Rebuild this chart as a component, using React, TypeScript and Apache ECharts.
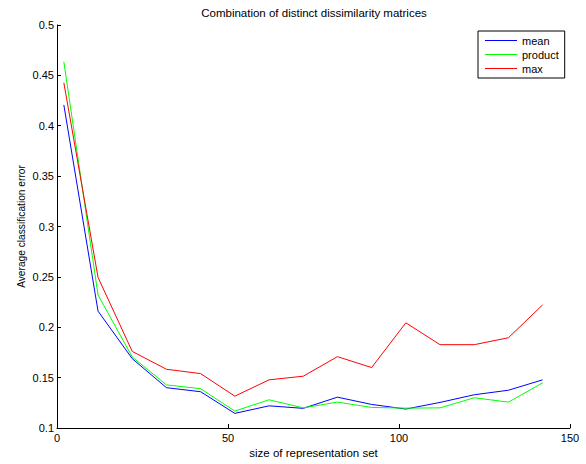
import React, { useEffect, useRef } from "react";
import * as echarts from "echarts";

const xValues = [2, 12, 22, 32, 42, 52, 62, 72, 82, 92, 102, 112, 122, 132, 142];
const meanValues = [0.4207, 0.216, 0.1688, 0.140, 0.136, 0.1145, 0.122, 0.1195, 0.1306, 0.1234, 0.1188, 0.1254, 0.133, 0.1375, 0.1478];
const productValues = [0.4635, 0.232, 0.1705, 0.1428, 0.139, 0.1168, 0.128, 0.120, 0.1257, 0.1204, 0.1197, 0.120, 0.130, 0.1257, 0.1448];
const maxValues = [0.4427, 0.2495, 0.176, 0.1583, 0.154, 0.1316, 0.1478, 0.1514, 0.1708, 0.160, 0.2044, 0.1827, 0.1827, 0.1896, 0.2222];

const FONT = "'Liberation Sans', Arial, Helvetica, sans-serif";

export default function App() {
  const ref = useRef<HTMLDivElement>(null);
  useEffect(() => {
    if (!ref.current) return;
    const chart = echarts.init(ref.current, undefined, { renderer: "svg" });
    const mk = (name: string, vals: number[], color: string) => ({
      name,
      type: "line",
      data: xValues.map((x, i) => [x, vals[i]]),
      symbol: "none",
      lineStyle: { color, width: 1 },
      itemStyle: { color },
    });
    chart.setOption({
      animation: false,
      backgroundColor: "#fff",
      textStyle: { fontFamily: FONT },
      grid: { left: 57, right: 16, top: 25, bottom: 34, containLabel: false },
      graphic: [
        {
          type: "text",
          x: 314,
          y: 13,
          style: {
            text: "Combination of distinct dissimilarity matrices",
            fontSize: 11.5,
            fontFamily: FONT,
            fill: "#000",
            textAlign: "center",
            textVerticalAlign: "middle",
          },
        },
      ],
      legend: {
        orient: "vertical",
        left: 478,
        top: 31,
        padding: [3, 6, 3, 7],
        itemGap: 1,
        itemWidth: 32,
        itemHeight: 1,
        icon: "rect",
        borderColor: "#000",
        borderWidth: 1,
        backgroundColor: "#fff",
        textStyle: { fontSize: 11, color: "#000", fontFamily: FONT, lineHeight: 13 },
        data: ["mean", "product", "max"],
      },
      xAxis: {
        type: "value",
        min: 0,
        max: 150,
        interval: 50,
        name: "size of representation set",
        nameLocation: "middle",
        nameGap: 19,
        nameMoveOverlap: false,
        nameTextStyle: { fontSize: 11.5, color: "#000", fontFamily: FONT },
        axisLine: { show: true, lineStyle: { color: "#000", width: 1 } },
        axisTick: { show: true, inside: true, length: 4, lineStyle: { color: "#000" } },
        axisLabel: { fontSize: 11, color: "#000", margin: 4, fontFamily: FONT },
        splitLine: { show: false },
      },
      yAxis: {
        type: "value",
        min: 0.1,
        max: 0.5,
        interval: 0.05,
        name: "Average classification error",
        nameLocation: "middle",
        nameGap: 31,
        nameMoveOverlap: false,
        nameTextStyle: { fontSize: 10.2, color: "#000", fontFamily: FONT },
        axisLine: { show: true, lineStyle: { color: "#000", width: 1 } },
        axisTick: { show: true, inside: true, length: 4, lineStyle: { color: "#000" } },
        axisLabel: { fontSize: 11, color: "#000", margin: 3, fontFamily: FONT },
        splitLine: { show: false },
      },
      series: [
        mk("mean", meanValues, "#0000ff"),
        mk("product", productValues, "#00ff00"),
        mk("max", maxValues, "#ff0000"),
      ],
    });
    return () => chart.dispose();
  }, []);
  return (
    <div
      ref={ref}
      style={{ position: "fixed", left: 0, top: 0, width: 586, height: 464 }}
    />
  );
}
